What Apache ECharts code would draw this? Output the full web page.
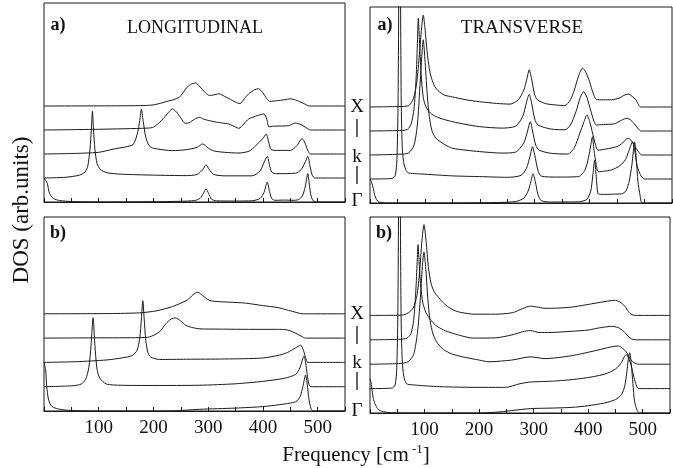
<!DOCTYPE html>
<html><head><meta charset="utf-8">
<script src="https://cdn.jsdelivr.net/npm/echarts@6/dist/echarts.min.js"></script>
<style>html,body{margin:0;padding:0;background:#fff}#c{width:673px;height:468px}</style>
</head><body><div id="c"></div>
<script>
// ---------- data (frequency cm^-1, DOS arb. units) ----------
const TICK_LABELS = [100, 200, 300, 400, 500];
const CURVE_LABELS = ['X', 'k', 'Γ'];

// Longitudinal a)  (curves from Γ upward to X)
const LONG_A_G = [[0,1.0],[3,0.9],[6,0.78],[10,0.36],[17,0.15],[29,0.06],[50,0.02],[100,0],[200,0.01],[250,0.03],[275,0.06],[285,0.15],[291,0.35],[296,0.55],[301,0.35],[306,0.12],[315,0.05],[350,0.04],[380,0.05],[395,0.15],[402,0.4],[408,0.83],[412,0.45],[416,0.15],[422,0.07],[440,0.08],[455,0.07],[465,0.1],[472,0.25],[477,0.6],[482,1.18],[485,0.7],[488,0.25],[492,0.05],[500,0],[550,0]];
const LONG_A_K2 = [[0,0],[40,0.03],[65,0.12],[75,0.25],[80,0.5],[84,1.2],[86.5,2.0],[88.5,2.78],[90.5,2.0],[93,1.2],[97,0.6],[103,0.35],[115,0.22],[140,0.16],[200,0.12],[260,0.1],[280,0.15],[290,0.35],[296,0.55],[302,0.35],[310,0.15],[330,0.09],[380,0.09],[395,0.3],[403,0.7],[408,0.9],[412,0.55],[416,0.25],[425,0.18],[460,0.2],[470,0.35],[477,0.65],[482,0.9],[486,0.5],[490,0.12],[495,0],[550,0]];
const LONG_A_K = [[0,0],[50,0.02],[100,0.07],[126,0.2],[150,0.3],[163,0.4],[170,0.8],[175,1.4],[178,1.87],[181,1.4],[186,0.7],[192,0.35],[200,0.24],[235,0.14],[260,0.18],[280,0.28],[290,0.42],[300,0.25],[310,0.13],[330,0.07],[356,0.04],[375,0.12],[387,0.35],[400,0.65],[406,0.83],[410,0.55],[414,0.22],[420,0.15],[450,0.15],[462,0.35],[469,0.6],[472,0.63],[477,0.45],[482,0.15],[487,0],[550,0]];
const LONG_A_K1 = [[0,0],[100,0.03],[190,0.08],[200,0.12],[215,0.4],[228,0.75],[235,0.875],[242,0.75],[250,0.5],[258,0.28],[265,0.3],[275,0.45],[284,0.53],[292,0.45],[302,0.39],[315,0.33],[326,0.29],[338,0.25],[350,0.12],[356,0.07],[365,0.25],[374,0.46],[390,0.6],[402,0.67],[407,0.45],[411,0.13],[420,0.16],[447,0.18],[459,0.29],[470,0.22],[480,0.08],[487,0],[550,0]];
const LONG_A_X = [[0,0],[150,0.01],[198,0.04],[223,0.18],[247,0.36],[262,0.8],[270,0.92],[277,0.96],[285,0.8],[295,0.55],[302,0.44],[310,0.46],[320,0.51],[330,0.4],[338,0.31],[350,0.16],[358,0.1],[366,0.3],[374,0.51],[385,0.68],[392,0.72],[400,0.55],[407,0.31],[413,0.19],[425,0.22],[440,0.26],[450,0.3],[460,0.25],[475,0.1],[485,0],[550,0]];

// Longitudinal b)
const LONG_B_G = [[0,2.0],[3,1.7],[5,1.0],[8,0.5],[12,0.25],[17,0.15],[29,0.07],[50,0.02],[100,0],[200,0],[240,0.01],[284,0.07],[350,0.12],[399,0.18],[430,0.26],[460,0.38],[468,0.6],[473,1.0],[478,1.48],[481,1.1],[484,0.5],[488,0.1],[492,0],[550,0]];
const LONG_B_K2 = [[0,0],[53,0.04],[68,0.11],[76,0.3],[82,0.8],[86,1.7],[89.7,2.84],[93,1.7],[97,0.7],[102,0.35],[114,0.11],[140,0.06],[200,0.05],[284,0.06],[350,0.12],[400,0.22],[440,0.35],[460,0.51],[468,0.8],[472,1.1],[475,1.26],[478,1.0],[481,0.5],[484,0.1],[488,0],[550,0]];
const LONG_B_K = [[0,0],[60,0.03],[114,0.1],[144,0.19],[162,0.29],[170,0.5],[175,1.0],[178,1.8],[180.6,2.54],[183,1.8],[186,0.9],[190,0.4],[195,0.22],[211,0.12],[260,0.13],[330,0.14],[399,0.18],[430,0.3],[445,0.41],[460,0.6],[469,0.71],[474,0.5],[478,0.2],[482,0],[550,0]];
const LONG_B_K1 = [[0,0],[100,0.01],[175,0.02],[193,0.05],[211,0.26],[223,0.6],[232,0.78],[240,0.83],[250,0.7],[259,0.53],[270,0.44],[285,0.38],[320,0.37],[380,0.36],[420,0.36],[440,0.35],[450,0.3],[460,0.2],[470,0.08],[478,0],[550,0]];
const LONG_B_X = [[0,0],[120,0.01],[175,0.04],[205,0.12],[235,0.3],[262,0.57],[272,0.78],[281,0.89],[290,0.75],[302,0.55],[320,0.5],[338,0.48],[368,0.44],[399,0.34],[429,0.25],[447,0.14],[462,0.05],[472,0],[550,0]];

// Transverse a)
const TRANS_A_G = [[0,1.0],[3,0.85],[6,0.6],[9,0.3],[13,0.1],[18,0.03],[30,0],[150,0],[230,0.02],[265,0.06],[280,0.2],[288,0.5],[293,0.9],[297,1.22],[301,0.9],[306,0.35],[312,0.1],[330,0.04],[380,0.05],[395,0.15],[402,0.5],[406,1.2],[409,1.78],[412,1.1],[415,0.4],[420,0.36],[430,0.36],[445,0.37],[458,0.38],[466,0.5],[472,0.9],[477,1.6],[482,2.54],[485,1.8],[488,0.9],[492,0.3],[496,0],[550,0]];
const TRANS_A_K2 = [[0,0],[40,0.02],[46,0.15],[49,0.8],[51,3],[52.5,8],[54,14],[55.5,8],[57,3],[59,1.2],[62,0.6],[66,0.35],[70,0.25],[85,0.22],[100,0.2],[150,0.13],[200,0.1],[250,0.07],[275,0.15],[285,0.45],[292,1.0],[296,1.35],[300,1.0],[306,0.35],[312,0.12],[340,0.08],[380,0.1],[392,0.4],[398,0.9],[402,1.4],[405,1.76],[408,1.2],[412,0.6],[416,0.3],[425,0.32],[440,0.38],[455,0.55],[465,0.8],[472,1.2],[478,1.55],[482,1.2],[486,0.6],[490,0.3],[495,0.08],[500,0],[550,0]];
const TRANS_A_K = [[0,0],[50,0.03],[70,0.08],[80,0.4],[86,1.2],[90,2.5],[94,4.0],[97,4.8],[100,4.0],[104,2.6],[108,1.6],[113,1.0],[120,0.7],[135,0.45],[150,0.28],[175,0.2],[200,0.14],[240,0.08],[265,0.12],[280,0.5],[287,1.0],[292,1.39],[296,1.0],[302,0.4],[308,0.2],[330,0.07],[360,0.04],[372,0.3],[382,0.9],[390,1.4],[395,1.67],[400,1.4],[406,0.85],[411,0.4],[415,0.2],[430,0.25],[450,0.35],[460,0.5],[466,0.65],[470,0.7],[476,0.6],[484,0.3],[490,0.1],[495,0],[550,0]];
const TRANS_A_K1 = [[0,0],[50,0.02],[68,0.06],[75,0.3],[80,0.9],[84,2.2],[86.5,3.8],[88,4.7],[90,3.8],[93,2.4],[97,1.4],[102,1.0],[110,0.75],[120,0.6],[135,0.48],[150,0.39],[175,0.27],[200,0.18],[240,0.12],[265,0.2],[278,0.6],[285,1.2],[290,1.53],[294,1.2],[300,0.5],[306,0.25],[330,0.08],[355,0.05],[365,0.25],[375,0.8],[383,1.4],[389,1.64],[395,1.4],[402,0.85],[408,0.4],[412,0.25],[425,0.27],[445,0.3],[458,0.45],[468,0.53],[475,0.45],[483,0.25],[489,0.08],[493,0],[550,0]];
const TRANS_A_X = [[0,0],[50,0.02],[70,0.05],[79,0.35],[85,1.0],[90,2.2],[94,3.3],[97,3.83],[100,3.3],[104,2.3],[108,1.6],[112,1.2],[118,0.85],[124,0.68],[135,0.5],[150,0.42],[175,0.3],[200,0.22],[230,0.15],[255,0.12],[270,0.3],[280,0.7],[286,1.2],[290,1.55],[294,1.2],[300,0.5],[305,0.3],[320,0.14],[340,0.08],[355,0.06],[365,0.3],[372,0.7],[380,1.3],[387,1.62],[393,1.45],[400,1.05],[406,0.6],[412,0.32],[425,0.3],[440,0.3],[455,0.38],[462,0.48],[470,0.54],[477,0.45],[484,0.3],[489,0.1],[493,0],[550,0]];

// Transverse b)
const TRANS_B_G = [[0,1.4],[2,1.25],[4,0.9],[6,0.6],[9,0.38],[14,0.18],[21,0.07],[39,0.01],[100,0],[200,0],[230,0.03],[260,0.1],[294,0.18],[330,0.2],[370,0.23],[400,0.3],[430,0.41],[450,0.55],[461,0.75],[467,1.1],[471,1.7],[473.5,2.2],[476,2.47],[479,2.0],[482,1.2],[485,0.48],[489,0.15],[494,0],[550,0]];
const TRANS_B_K2 = [[0,0],[40,0.02],[46,0.15],[49,0.8],[51,3],[52.5,8],[54,14],[55.5,8],[57,3],[59,1.2],[62,0.5],[67,0.2],[80,0.15],[127,0.08],[200,0.05],[248,0.05],[275,0.2],[294,0.27],[339,0.31],[390,0.42],[430,0.59],[450,0.8],[461,1.07],[466,1.3],[470,1.4],[474,1.25],[479,0.93],[484,0.45],[488,0.15],[492,0],[550,0]];
const TRANS_B_K = [[0,0],[55,0.03],[70,0.1],[80,0.4],[87,1.3],[92,2.6],[96,4.0],[99,4.6],[102,4.0],[106,2.7],[110,1.8],[116,1.2],[124,0.85],[135,0.6],[150,0.42],[170,0.3],[200,0.17],[218,0.1],[260,0.17],[294,0.3],[321,0.23],[370,0.35],[418,0.58],[440,0.7],[455,0.75],[463,0.65],[470,0.5],[479,0.16],[491,0],[550,0]];
const TRANS_B_K1 = [[0,0],[55,0.02],[68,0.07],[75,0.25],[80,0.8],[84,2.0],[86.5,3.2],[88,3.9],[90,3.2],[93,2.2],[97,1.5],[103,1.1],[110,0.85],[120,0.6],[135,0.4],[150,0.28],[170,0.15],[188,0.07],[230,0.08],[260,0.2],[280,0.33],[294,0.38],[310,0.3],[330,0.3],[370,0.35],[400,0.4],[418,0.48],[430,0.52],[443,0.55],[455,0.5],[465,0.35],[473,0.15],[480,0.03],[488,0],[550,0]];
const TRANS_B_X = [[0,0],[58,0.01],[70,0.1],[79,0.3],[86,0.8],[91,1.8],[95,3.0],[99,3.72],[103,3.0],[107,2.0],[112,1.3],[118,0.95],[124,0.78],[133,0.55],[142,0.37],[155,0.2],[167,0.12],[191,0.05],[230,0.05],[261,0.11],[280,0.28],[294,0.38],[305,0.35],[321,0.29],[345,0.3],[370,0.34],[395,0.43],[418,0.52],[440,0.6],[448,0.62],[458,0.55],[467,0.38],[474,0.15],[480,0.03],[490,0],[550,0]];

// ---------- layout ----------
const SERIF = '"Liberation Serif","DejaVu Serif",serif';
const INK = '#1a1a1a';
const panels = [
  {left:44, top:3, width:301, height:199, ymax:199/24, labels:false, curves:[LONG_A_G,LONG_A_K2,LONG_A_K,LONG_A_K1,LONG_A_X]},
  {left:370, top:7, width:302, height:196, ymax:196/24, labels:false, curves:[TRANS_A_G,TRANS_A_K2,TRANS_A_K,TRANS_A_K1,TRANS_A_X]},
  {left:44, top:217, width:301, height:194, ymax:194/24.3, labels:true, curves:[LONG_B_G,LONG_B_K2,LONG_B_K,LONG_B_K1,LONG_B_X]},
  {left:370, top:217, width:302, height:196, ymax:196/24.4, labels:true, curves:[TRANS_B_G,TRANS_B_K2,TRANS_B_K,TRANS_B_K1,TRANS_B_X]}
];

const grid = [], xAxis = [], yAxis = [], series = [];
panels.forEach((p, i) => {
  grid.push({left:p.left, top:p.top, width:p.width, height:p.height, show:true, borderColor:INK, borderWidth:1, backgroundColor:'transparent'});
  xAxis.push({type:'value', gridIndex:i, min:0, max:550, interval:50,
    axisLine:{show:true, lineStyle:{color:INK, width:1}},
    axisTick:{show:true, inside:true, length:4, lineStyle:{color:INK}},
    splitLine:{show:false},
    axisLabel:{show:p.labels, margin:8, color:'#111', fontFamily:SERIF, fontSize:19,
      formatter: v => TICK_LABELS.indexOf(v) >= 0 ? String(v) : ''}});
  yAxis.push({type:'value', gridIndex:i, min:0, max:p.ymax, show:false, splitLine:{show:false}});
  p.curves.forEach((c, k) => {
    series.push({type:'line', xAxisIndex:i, yAxisIndex:i, symbol:'none', smooth:0.25, clip:true,
      lineStyle:{color:INK, width:1}, silent:true, animation:false,
      data: c.map(d => [d[0], d[1] + k])});
  });
});

const graphic = [];
function txt(x, y, text, size, extra) {
  graphic.push(Object.assign({type:'text', x:x, y:y, silent:true,
    style:Object.assign({text:text, fill:'#111', fontFamily:SERIF, fontSize:size, align:'center', verticalAlign:'middle'}, extra||{})}));
}
function bar(x, y1, y2) {
  graphic.push({type:'line', silent:true, shape:{x1:x, y1:y1, x2:x, y2:y2}, style:{stroke:'#111', lineWidth:1.3}});
}
txt(58, 25, 'a)', 18, {fontWeight:'bold'});
txt(385, 25, 'a)', 18, {fontWeight:'bold'});
txt(58, 233, 'b)', 18, {fontWeight:'bold'});
txt(384, 233, 'b)', 18, {fontWeight:'bold'});
txt(195, 28, 'LONGITUDINAL', 18);
txt(522, 28, 'TRANSVERSE', 19);
[[107,157,201],[314,363,411]].forEach(ys => {
  txt(357, ys[0], CURVE_LABELS[0], 19);
  txt(357, ys[1], CURVE_LABELS[1], 19);
  txt(357, ys[2], CURVE_LABELS[2], 19);
  bar(357, ys[0]+12, ys[0]+30);
  bar(357, ys[1]+9, ys[1]+27);
});
graphic.push({type:'text', x:22, y:210, rotation:Math.PI/2, silent:true,
  style:{text:'DOS (arb.units)', fill:'#111', fontFamily:SERIF, fontSize:23, align:'center', verticalAlign:'middle'}});
graphic.push({type:'text', x:356, y:455, silent:true,
  style:{text:'{a|Frequency [cm}{s| -1}{a|]}', align:'center', verticalAlign:'middle',
    rich:{a:{fontFamily:SERIF, fontSize:21, fill:'#111'}, s:{fontFamily:SERIF, fontSize:13, fill:'#111', verticalAlign:'top', padding:[0,0,10,0]}}}});

const chart = echarts.init(document.getElementById('c'), null, {renderer:'canvas'});
chart.setOption({animation:false, backgroundColor:'#fff', grid, xAxis, yAxis, series, graphic});
</script></body></html>
